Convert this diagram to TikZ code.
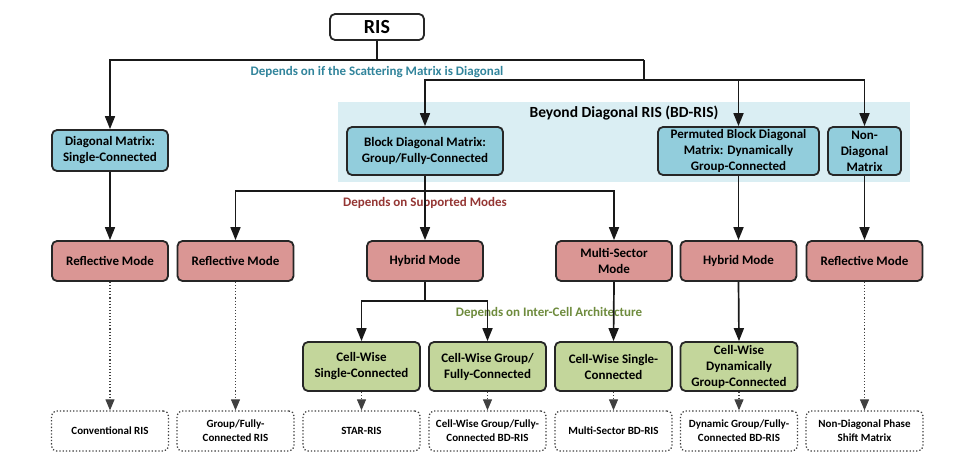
\documentclass[tikz,border=0pt]{standalone}
\usepackage{fontspec}
\setmainfont{Carlito}
\usetikzlibrary{arrows.meta}
\definecolor{bfill}{HTML}{92CDDC}
\definecolor{rfill}{HTML}{DA9694}
\definecolor{gfill}{HTML}{C3D69B}
\definecolor{bdfill}{HTML}{DAEEF3}
\definecolor{tealtxt}{HTML}{31849B}
\definecolor{redtxt}{HTML}{943634}
\definecolor{greentxt}{HTML}{6E8B3D}
\begin{document}
\begin{tikzpicture}[x=1pt,y=-1pt,
  box/.style={draw=black!85, line width=1.8pt, rounded corners=5pt, align=center, inner sep=0pt, font=\fontsize{13}{16}\selectfont\bfseries},
  bluebox/.style={box, fill=bfill},
  redbox/.style={box, fill=rfill, minimum width=116pt, minimum height=40pt},
  greenbox/.style={box, fill=gfill, minimum width=117pt, minimum height=49pt},
  endbox/.style={draw=black!75, dotted, line width=1.3pt, rounded corners=5pt, align=center, inner sep=0pt, minimum width=117pt, minimum height=40pt, font=\fontsize{11}{14}\selectfont\bfseries},
  conn/.style={draw=black!90, line width=1.7pt},
  arr/.style={conn, -{Triangle[length=13pt,width=10pt]}},
  darr/.style={draw=black!75, line width=1.1pt, dotted, -{Triangle[length=11pt,width=9pt]}},
  lab/.style={font=\fontsize{13}{15}\selectfont\bfseries}]
\useasboundingbox (0,0) rectangle (971,465);
\fill[bdfill] (338,102) rectangle (910,182);
\node[font=\fontsize{15.5}{18}\selectfont\bfseries] (bdlab) at (624,113) {Beyond Diagonal RIS (BD-RIS)};

% nodes
\node[box, fill=white, minimum width=94pt, minimum height=26pt, font=\fontsize{20}{24}\selectfont\bfseries] (ris) at (377,27) {RIS};
\node[bluebox, minimum width=116pt, minimum height=41pt] (diag) at (110,150.5) {Diagonal Matrix:\\Single-Connected};
\node[bluebox, minimum width=156pt, minimum height=48pt] (block) at (425,151) {Block Diagonal Matrix:\\Group/Fully-Connected};
\node[bluebox, minimum width=161pt, minimum height=48pt] (perm) at (738.5,151) {Permuted Block Diagonal\\Matrix: Dynamically\\Group-Connected};
\node[bluebox, minimum width=73pt, minimum height=48pt] (nond) at (864.5,151) {Non-\\Diagonal\\Matrix};

\node[redbox] (refl1) at (110,261) {Reflective Mode};
\node[redbox] (refl2) at (235.5,261) {Reflective Mode};
\node[redbox] (hyb1) at (425,261) {Hybrid Mode};
\node[redbox] (ms) at (614,261) {Multi-Sector\\Mode};
\node[redbox] (hyb2) at (738.5,261) {Hybrid Mode};
\node[redbox] (refl3) at (864.5,261) {Reflective Mode};

\node[greenbox] (g1) at (361.5,366.5) {Cell-Wise\\Single-Connected};
\node[greenbox] (g2) at (487.5,366.5) {Cell-Wise Group/\\Fully-Connected};
\node[greenbox] (g3) at (613.5,366.5) {Cell-Wise Single-\\Connected};
\node[greenbox] (g4) at (739,366.5) {Cell-Wise\\Dynamically\\Group-Connected};

\node[endbox] (e1) at (110,431) {Conventional RIS};
\node[endbox] (e2) at (235.5,431) {Group/Fully-\\Connected RIS};
\node[endbox] (e3) at (361.5,431) {STAR-RIS};
\node[endbox] (e4) at (487.5,431) {Cell-Wise Group/Fully-\\Connected BD-RIS};
\node[endbox] (e5) at (613.5,431) {Multi-Sector BD-RIS};
\node[endbox] (e6) at (739,431) {Dynamic Group/Fully-\\Connected BD-RIS};
\node[endbox] (e7) at (864.5,431) {Non-Diagonal Phase\\Shift Matrix};

% labels
\node[lab, text=tealtxt] (l1) at (377,72) {Depends on if the Scattering Matrix is Diagonal};
\node[lab, text=redtxt] (l2) at (425,203) {Depends on Supported Modes};
\node[lab, text=greentxt] (l3) at (549,313) {Depends on Inter-Cell Architecture};

% connectors
\coordinate (j1) at (644,60);
\coordinate (j2) at (644,80);
\coordinate (k1) at (425,191);
\coordinate (m1) at (425,301);
\draw[conn] (ris.south) -- (ris.south |- j1);
\draw[arr] (j1) -| (diag.north);
\draw[conn] (j1) -- (j2);
\draw[arr] (j2) -| (nond.north);
\draw[arr] (j2) -| (block.north);
\draw[arr] (perm.north |- j2) -- (perm.north);

\draw[arr] (block.south) -- (hyb1.north);
\draw[arr] (k1) -| (refl2.north);
\draw[arr] (k1) -| (ms.north);
\draw[arr] (diag.south) -- (refl1.north);
\draw[arr] (perm.south) -- (hyb2.north);
\draw[arr] (nond.south) -- (refl3.north);

\draw[conn] (hyb1.south) -- (m1);
\draw[arr] (m1) -| (g1.north);
\draw[arr] (m1) -| (g2.north);
\draw[arr] (ms.south) -- (g3.north);
\draw[arr] (hyb2.south) -- (g4.north);

\draw[darr] (refl1.south) -- (e1.north);
\draw[darr] (refl2.south) -- (e2.north);
\draw[darr] (g1.south) -- (e3.north);
\draw[darr] (g2.south) -- (e4.north);
\draw[darr] (g3.south) -- (e5.north);
\draw[darr] (g4.south) -- (e6.north);
\draw[darr] (refl3.south) -- (e7.north);
\end{tikzpicture}
\end{document}
